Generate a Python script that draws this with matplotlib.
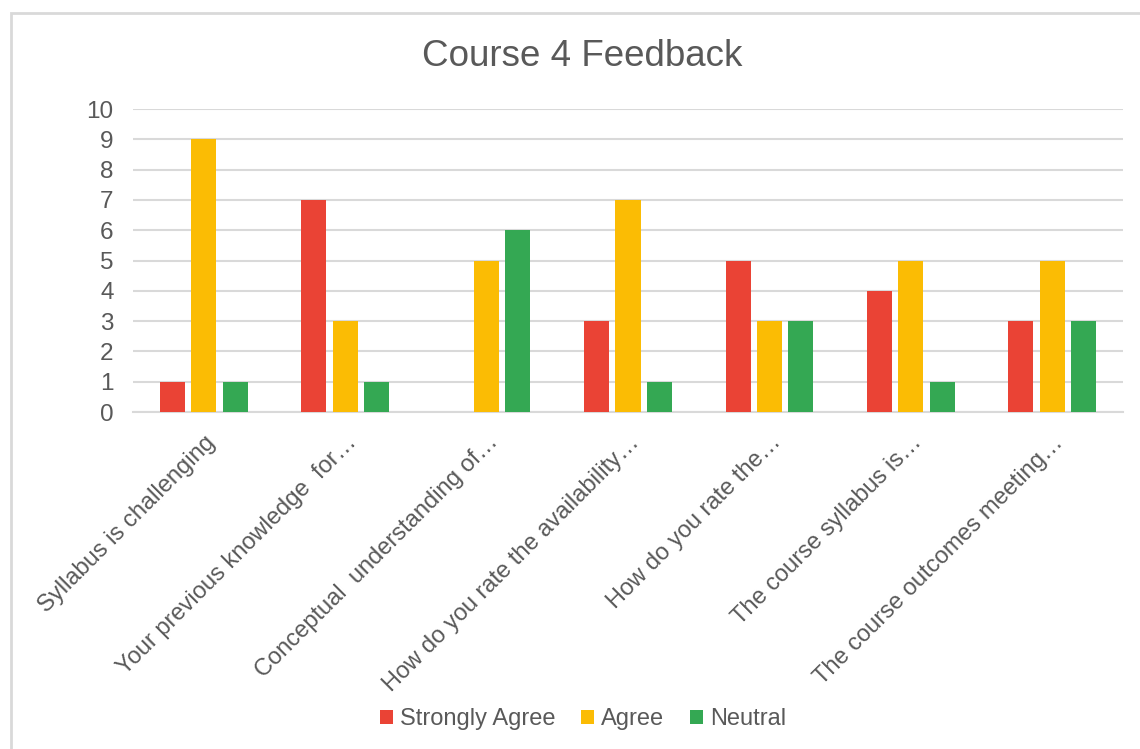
import numpy as np
import matplotlib.pyplot as plt
from matplotlib.patches import Rectangle

categories = ['Syllabus is challenging',
              'Your previous knowledge  for…',
              'Conceptual  understanding of…',
              'How do you rate the availability…',
              'How do you rate the…',
              'The course syllabus is…',
              'The course outcomes meeting…']
strongly_agree = [1, 7, 0, 3, 5, 4, 3]
agree = [9, 3, 5, 7, 3, 5, 5]
neutral = [1, 1, 6, 1, 3, 1, 3]

plt.rcParams['font.family'] = ['Liberation Sans', 'DejaVu Sans']
txt = '#595959'

fig = plt.figure(figsize=(11.4, 7.49), dpi=100)
# outer chart frame
fig.patches.append(Rectangle((11 / 1140, -0.05), 1.1, 1 - 13 / 749 + 0.05,
                             transform=fig.transFigure, fill=False,
                             edgecolor='#D9D9D9', linewidth=2))

ax = fig.add_axes([133 / 1140, 1 - 412 / 749, (1123 - 133) / 1140, (412 - 109) / 749])

x = np.arange(len(categories))
slot = 0.222
w = 0.177
ax.bar(x - slot, strongly_agree, w, color='#EA4335', label='Strongly Agree', zorder=3)
ax.bar(x, agree, w, color='#FBBC04', label='Agree', zorder=3)
ax.bar(x + slot, neutral, w, color='#34A853', label='Neutral', zorder=3)

ax.set_xlim(-0.5, len(categories) - 0.5)
ax.set_ylim(0, 10)
ax.set_yticks(range(0, 11))
ax.yaxis.grid(True, color='#D9D9D9', linewidth=1.5)
ax.set_axisbelow(True)
for s in ['left', 'right', 'top']:
    ax.spines[s].set_visible(False)
ax.spines['bottom'].set_color('#D9D9D9')
ax.spines['bottom'].set_linewidth(1.5)
ax.tick_params(axis='both', length=0, labelsize=17.5, labelcolor=txt)
ax.tick_params(axis='y', pad=14)
ax.set_xticks(x)
ax.set_xticklabels(categories, rotation=45, ha='right', rotation_mode='anchor',
                   fontsize=17, color=txt)
ax.tick_params(axis='x', pad=14)

fig.text(582 / 1140, 1 - 57 / 749, 'Course 4 Feedback', ha='center', va='center',
         fontsize=26.5, color=txt)

fig.legend(loc='center', bbox_to_anchor=(583 / 1140, 1 - 719 / 749), ncol=3,
           frameon=False, fontsize=17, labelcolor=txt, handlelength=0.55,
           handleheight=0.55, handletextpad=0.3, columnspacing=1.1)

plt.savefig('out.png', dpi=100)
